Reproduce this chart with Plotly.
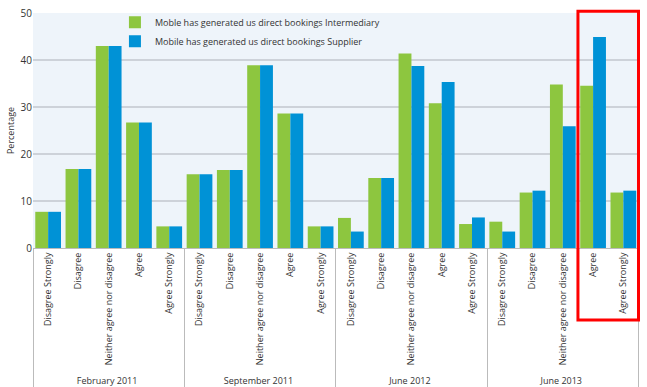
import plotly.graph_objects as go

periods = ["February 2011", "September 2011", "June 2012", "June 2013"]
responses = ["Disagree Strongly", "Disagree", "Neither agree nor disagree", "Agree", "Agree Strongly"]

intermediary = [7.7, 16.8, 43.0, 26.7, 4.6,
                15.7, 16.6, 38.9, 28.6, 4.6,
                6.4, 14.9, 41.4, 30.8, 5.1,
                5.6, 11.8, 34.8, 34.5, 11.8]
supplier = [7.7, 16.8, 43.0, 26.7, 4.6,
            15.7, 16.6, 38.9, 28.6, 4.6,
            3.5, 14.9, 38.7, 35.3, 6.5,
            3.5, 12.2, 25.9, 44.9, 12.2]

names = ["Moble has generated us direct bookings Intermediary",
         "Mobile has generated us direct bookings Supplier"]

outer = [p for p in periods for _ in responses]
inner = [r for _ in periods for r in responses]

fig = go.Figure()
fig.add_trace(go.Bar(x=[outer, inner], y=intermediary, name=names[0],
                     marker=dict(color="#8DC63F", line=dict(width=0))))
fig.add_trace(go.Bar(x=[outer, inner], y=supplier, name=names[1],
                     marker=dict(color="#0092D6", line=dict(width=0))))

fig.update_layout(
    width=647, height=387,
    margin=dict(l=33, r=7, t=13, b=139),
    paper_bgcolor="white",
    plot_bgcolor="#EEF4FA",
    barmode="group",
    bargap=0.15,
    bargroupgap=0,
    font=dict(family="Open Sans, sans-serif", size=9, color="#333333"),
    legend=dict(x=0.135, y=1.022, xanchor="left", yanchor="top",
                bgcolor="rgba(0,0,0,0)", font=dict(size=9, color="#333333"),
                itemwidth=30, tracegroupgap=0),
    showlegend=True,
)
fig.update_xaxes(
    type="multicategory",
    automargin=False,
    tickangle=-90,
    showgrid=False,
    showline=True, linecolor="#BBBBBB", linewidth=1,
    ticks="",
    dividercolor="#BBBBBB", dividerwidth=1,
    tickfont=dict(size=9, color="#333333"),
)
fig.update_yaxes(
    automargin=False,
    range=[0, 50],
    dtick=10,
    showgrid=True, gridcolor="#CDD2D9", gridwidth=1.5,
    zeroline=False,
    showline=False,
    ticks="",
    title=dict(text="Percentage", font=dict(size=9, color="#333333"), standoff=4),
    tickfont=dict(size=10, color="#333333"),
)

# red highlight box around June 2013 Agree / Agree Strongly
fig.add_shape(type="rect", xref="x", yref="paper",
              x0=17.5, x1=19.5, y0=-0.306, y1=1.007,
              line=dict(color="#FF0000", width=3), fillcolor="rgba(0,0,0,0)",
              layer="above")

fig.write_html(
    "out.html",
    config={"displayModeBar": False},
    post_script="document.body.style.margin='0';document.body.style.overflow='hidden';",
)
